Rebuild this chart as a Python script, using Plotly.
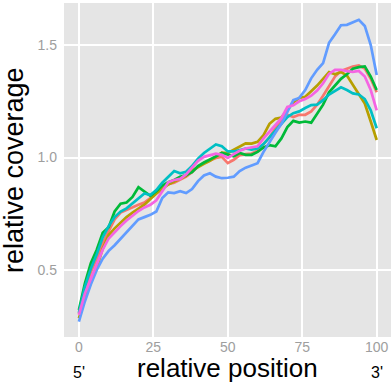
import plotly.graph_objects as go

positions = list(range(0, 101, 2))

series_names = ["s1", "s2", "s3", "s4", "s5", "s6"]
series_colors = ["#F8766D", "#B79F00", "#00BA38", "#00BFC4", "#619CFF", "#F564E3"]

s1 = [0.305, 0.41, 0.49, 0.55, 0.62, 0.67, 0.725, 0.755, 0.767, 0.78, 0.79, 0.80, 0.82, 0.84,
      0.865, 0.882, 0.888, 0.90, 0.915, 0.935, 0.96, 0.976, 0.988, 0.998, 1.003, 0.975, 0.99,
      1.01, 1.015, 1.018, 1.03, 1.06, 1.09, 1.13, 1.165, 1.19, 1.18, 1.19, 1.19, 1.205, 1.235,
      1.275, 1.32, 1.36, 1.385, 1.395, 1.405, 1.41, 1.395, 1.35, 1.29]
s2 = [0.285, 0.375, 0.445, 0.51, 0.595, 0.655, 0.685, 0.71, 0.735, 0.755, 0.772, 0.79, 0.815,
      0.84, 0.86, 0.88, 0.893, 0.905, 0.918, 0.942, 0.958, 0.972, 0.985, 1.005, 1.022, 1.02,
      1.035, 1.05, 1.063, 1.062, 1.07, 1.10, 1.15, 1.172, 1.178, 1.21, 1.245, 1.265, 1.27,
      1.295, 1.32, 1.35, 1.38, 1.37, 1.38, 1.365, 1.325, 1.285, 1.24, 1.16, 1.078]
s3 = [0.322, 0.44, 0.53, 0.59, 0.665, 0.69, 0.76, 0.795, 0.80, 0.825, 0.868, 0.85, 0.83, 0.85,
      0.875, 0.89, 0.90, 0.915, 0.922, 0.935, 0.962, 0.978, 0.99, 1.005, 1.02, 1.012, 1.005,
      1.02, 1.012, 1.012, 1.025, 1.045, 1.055, 1.05, 1.085, 1.135, 1.163, 1.155, 1.16, 1.155,
      1.195, 1.235, 1.29, 1.322, 1.35, 1.37, 1.395, 1.402, 1.405, 1.36, 1.30]
s4 = [0.31, 0.425, 0.505, 0.57, 0.645, 0.695, 0.735, 0.76, 0.774, 0.795, 0.82, 0.84, 0.833,
      0.855, 0.888, 0.915, 0.94, 0.93, 0.937, 0.962, 0.995, 1.02, 1.04, 1.058, 1.05, 1.027,
      1.027, 1.035, 1.04, 1.035, 1.04, 1.06, 1.09, 1.12, 1.155, 1.18, 1.197, 1.205, 1.22,
      1.233, 1.235, 1.255, 1.28, 1.295, 1.312, 1.30, 1.285, 1.28, 1.26, 1.21, 1.13]
s5 = [0.27, 0.36, 0.435, 0.50, 0.55, 0.585, 0.61, 0.64, 0.665, 0.695, 0.725, 0.735, 0.745,
      0.76, 0.82, 0.845, 0.842, 0.85, 0.842, 0.86, 0.895, 0.92, 0.93, 0.915, 0.908, 0.91,
      0.915, 0.94, 0.955, 0.965, 0.975, 1.025, 1.07, 1.11, 1.15, 1.20, 1.255, 1.265, 1.30,
      1.352, 1.39, 1.42, 1.51, 1.548, 1.588, 1.59, 1.60, 1.612, 1.585, 1.50, 1.367]
s6 = [0.30, 0.395, 0.46, 0.525, 0.59, 0.64, 0.67, 0.695, 0.72, 0.742, 0.762, 0.778, 0.79,
      0.81, 0.85, 0.89, 0.90, 0.905, 0.925, 0.955, 0.985, 1.003, 1.01, 1.017, 1.012, 0.998,
      1.015, 1.03, 1.04, 1.045, 1.05, 1.085, 1.115, 1.145, 1.175, 1.225, 1.232, 1.25, 1.26,
      1.275, 1.298, 1.33, 1.372, 1.39, 1.39, 1.384, 1.381, 1.385, 1.36, 1.30, 1.21]

all_series = [s1, s2, s3, s4, s5, s6]

x_ticks = [0, 25, 50, 75, 100]
x_tick_labels = ["0", "25", "50", "75", "100"]
y_ticks = [0.5, 1.0, 1.5]
y_tick_labels = ["0.5", "1.0", "1.5"]

fig = go.Figure()
for name, color, vals in zip(series_names, series_colors, all_series):
    fig.add_trace(go.Scatter(x=positions, y=vals, mode="lines", name=name,
                             line=dict(color=color, width=2.7), showlegend=False))

font_fam = "Liberation Sans, Arial, sans-serif"
fig.update_layout(
    width=391, height=383,
    margin=dict(l=64, r=0, t=3, b=46),
    paper_bgcolor="white",
    plot_bgcolor="#E5E5E5",
    font=dict(family=font_fam),
    xaxis=dict(range=[-5, 104.8], tickvals=x_ticks, ticktext=x_tick_labels,
               showgrid=True, gridcolor="white", gridwidth=1.5, zeroline=False,
               ticks="", tickfont=dict(size=14, color="#9E9E9E"), showline=False),
    yaxis=dict(range=[0.202, 1.687], tickvals=y_ticks, ticktext=y_tick_labels,
               showgrid=True, gridcolor="white", gridwidth=1.5, zeroline=False,
               ticks="", tickfont=dict(size=14, color="#9E9E9E"), showline=False,
               ticklabelstandoff=6),
    annotations=[
        dict(text="relative position", xref="paper", yref="paper", x=0.5, y=0,
             yshift=-31, yanchor="middle", showarrow=False,
             font=dict(size=26, color="black")),
        dict(text="relative coverage", xref="paper", yref="paper", x=0, y=0.5,
             xshift=-50, xanchor="center", yanchor="middle", textangle=-90, showarrow=False,
             font=dict(size=27, color="black")),
        dict(text="5'", xref="x", yref="paper", x=0, y=0, yshift=-35,
             yanchor="middle", showarrow=False, font=dict(size=16, color="black")),
        dict(text="3'", xref="x", yref="paper", x=100, y=0, yshift=-35,
             yanchor="middle", showarrow=False, font=dict(size=16, color="black")),
    ],
)

fig.write_html("out.html", config={"displayModeBar": False},
               post_script="document.body.style.margin='0';document.body.style.padding='0';"
                           "document.body.style.overflow='hidden';")
